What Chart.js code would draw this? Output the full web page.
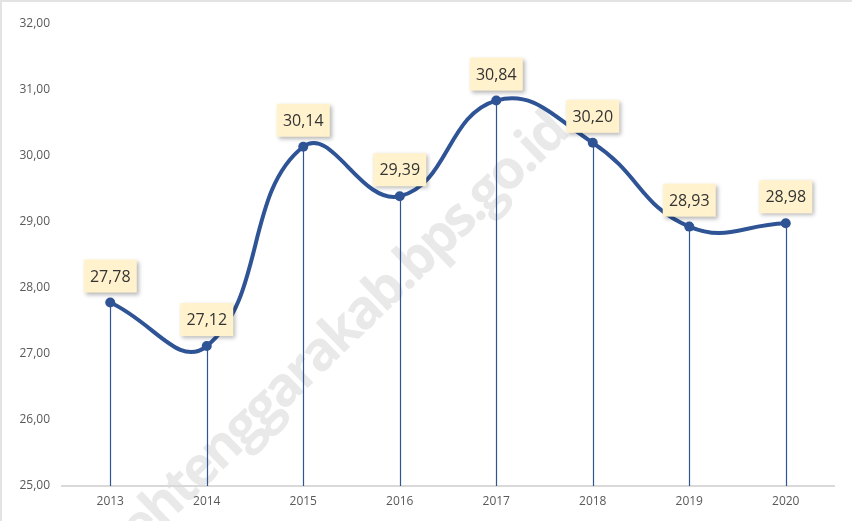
<!DOCTYPE html>
<html>
<head>
<meta charset="utf-8">
<script src="https://cdn.jsdelivr.net/npm/chart.js@4"></script>
<style>
    html, body { margin: 0; padding: 0; background: #fff; }
    #wrap { width: 852px; height: 521px; position: relative; box-sizing: border-box; border-top: 2px solid #e3e3e3; border-left: 2px solid #e3e3e3; }
    canvas { display: block; }
</style>
</head>
<body>
<div id="wrap"><canvas id="chart" width="850" height="519"></canvas></div>
<script>
// Data
const years = ["2013", "2014", "2015", "2016", "2017", "2018", "2019", "2020"];
const values = [27.78, 27.12, 30.14, 29.39, 30.84, 30.20, 28.93, 28.98];
const yMin = 25;
const yMax = 32;
const watermarkText = "acehtenggarakab.bps.go.id";

const lineColor = "#2f5496";

// Format numbers with a comma as decimal separator
function formatComma(v) {
    return v.toFixed(2).replace(".", ",");
}

// Faint watermark behind the chart
const watermarkPlugin = {
    id: "watermark",
    beforeDraw(chart) {
        const ctx = chart.ctx;
        ctx.save();
        ctx.font = "bold 54px 'Open Sans'";
        ctx.letterSpacing = "-3px";
        ctx.fillStyle = "#e9e9e9";
        ctx.translate(405, 290);
        ctx.rotate(-44 * Math.PI / 180);
        let prefix = watermarkText.split(".")[0];
        let w = ctx.measureText(prefix).width;
        ctx.textBaseline = "alphabetic";
        ctx.fillText(watermarkText, -w, 0);
        ctx.restore();
    }
};

// Vertical drop lines from each point to the x axis
const dropLinePlugin = {
    id: "dropLines",
    beforeDatasetsDraw(chart) {
        const ctx = chart.ctx;
        const meta = chart.getDatasetMeta(0);
        const bottom = chart.scales.y.getPixelForValue(yMin);
        ctx.save();
        ctx.strokeStyle = lineColor;
        ctx.lineWidth = 1.2;
        meta.data.forEach(pt => {
            ctx.beginPath();
            ctx.moveTo(Math.round(pt.x) + 0.5, pt.y);
            ctx.lineTo(Math.round(pt.x) + 0.5, bottom);
            ctx.stroke();
        });
        ctx.restore();
    }
};

// Yellow value boxes above the points
const labelPlugin = {
    id: "valueBoxes",
    afterDatasetsDraw(chart) {
        const ctx = chart.ctx;
        const meta = chart.getDatasetMeta(0);
        ctx.save();
        meta.data.forEach((pt, i) => {
            const bw = 53, bh = 33;
            const bx = pt.x - bw / 2;
            const by = pt.y - 10 - bh;
            ctx.save();
            ctx.shadowColor = "rgba(0,0,0,0.28)";
            ctx.shadowBlur = 4;
            ctx.shadowOffsetX = 2;
            ctx.shadowOffsetY = 2;
            ctx.fillStyle = "#fff2cc";
            ctx.fillRect(bx, by, bw, bh);
            ctx.restore();
            ctx.fillStyle = "#333333";
            ctx.font = "16px 'Open Sans'";
            ctx.textAlign = "center";
            ctx.textBaseline = "middle";
            ctx.fillText(formatComma(values[i]), pt.x, by + bh / 2 + 1);
        });
        ctx.restore();
    }
};

const ctx = document.getElementById("chart").getContext("2d");
new Chart(ctx, {
    type: "line",
    data: {
        labels: years,
        datasets: [{
            data: values,
            borderColor: lineColor,
            backgroundColor: lineColor,
            borderWidth: 4,
            tension: 0.45,
            pointRadius: 5,
            pointBackgroundColor: lineColor,
            pointBorderWidth: 0,
            fill: false
        }]
    },
    options: {
        responsive: false,
        animation: false,
        layout: { padding: { top: 22, right: 18, bottom: 0, left: 0 } },
        plugins: {
            legend: { display: false },
            tooltip: { enabled: false }
        },
        scales: {
            x: {
                offset: true,
                grid: { display: false, drawTicks: false },
                border: { display: true, color: "#d9d9d9", width: 2 },
                ticks: {
                    color: "#595959",
                    font: { family: "'Open Sans'", size: 12 },
                    padding: 8
                },
                afterFit(scale) { scale.height = 35; }
            },
            y: {
                min: yMin,
                max: yMax,
                grid: { display: false, drawTicks: false },
                border: { display: false },
                ticks: {
                    stepSize: 1,
                    color: "#595959",
                    font: { family: "'Open Sans'", size: 12 },
                    padding: 12,
                    callback: v => formatComma(v)
                },
                afterFit(scale) { scale.width = 60; }
            }
        }
    },
    plugins: [watermarkPlugin, dropLinePlugin, labelPlugin]
});
</script>
</body>
</html>
